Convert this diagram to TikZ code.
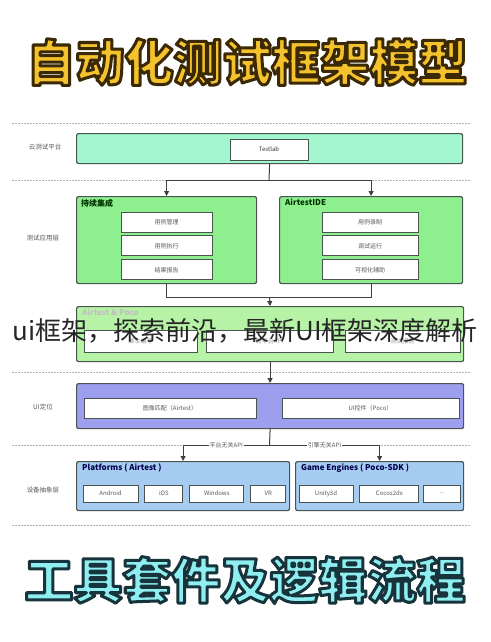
\documentclass[tikz,border=0pt]{standalone}
\usepackage{fontspec}
\setmainfont{Noto Sans CJK SC}
\usetikzlibrary{positioning, arrows.meta}
\usepackage{xcolor}

\definecolor{mintfill}{HTML}{A2F7CF}
\definecolor{greenfill}{HTML}{8DEF8D}
\definecolor{palegreen}{HTML}{B6F3A6}
\definecolor{violetfill}{HTML}{9E9EEE}
\definecolor{bluefill}{HTML}{A6CCF2}
\definecolor{edgegray}{HTML}{4A5550}
\definecolor{goldtitle}{HTML}{F3C22C}
\definecolor{cyantitle}{HTML}{8EEEF0}

\begin{document}
\begin{tikzpicture}[
    x=1pt, y=-1pt,
    layer/.style={draw=edgegray, rounded corners=2pt, line width=1.2pt, anchor=north west, inner sep=0pt},
    inbox/.style={draw=edgegray, fill=white, line width=0.9pt, minimum height=20pt, inner sep=0pt, font=\fontsize{6}{7}\selectfont, text=black!65},
    side/.style={font=\fontsize{6.5}{8}\selectfont, text=black!65},
    grptitle/.style={anchor=north west, inner sep=0pt, font=\bfseries\fontsize{8}{9}\selectfont},
    bigtitle/.style={inner sep=0pt, font=\bfseries\fontsize{49}{50}\selectfont},
    arrow/.style={-{Triangle[width=5pt,length=5pt]}, line width=1pt, draw=black!75},
    link/.style={line width=1pt, draw=black!75},
    sep/.style={draw=black!30, line width=0.6pt, dash pattern=on 2pt off 1pt},
    apilbl/.style={fill=white, inner sep=1pt, font=\fontsize{6}{7}\selectfont, text=black!65}
]
    \fill[white] (0,0) rectangle (490,642);
    \useasboundingbox (0,0) rectangle (490,642);

    % Titel oben
    \node[bigtitle, text=goldtitle] (toptitle) at (247,62)
        {\special{pdf:literal direct 2 Tr 3 w 1 j 0.23 0.16 0.02 RG}自动化测试框架模型\special{pdf:literal direct 0 Tr}};

    % Trennlinien
    \draw[sep] (12,123) -- (470,123);
    \draw[sep] (12,180) -- (470,180);
    \draw[sep] (12,372) -- (470,372);
    \draw[sep] (12,445) -- (470,445);
    \draw[sep] (12,525) -- (470,525);

    % Ebenen
    \node[side] (lcloud) at (45,147) {云测试平台};
    \node[side] (lapp) at (43,238) {测试应用层};
    \node[side] (lui) at (43,407) {UI定位};
    \node[side] (ldev) at (43,490) {设备抽象层};

    \node[layer, fill=mintfill, minimum width=386pt, minimum height=30pt] (cloud) at (76,133) {};
    \node[inbox, minimum width=78pt, minimum height=21pt, text=black!80] (testlab) at (269,149.5) {Testlab};

    \node[layer, fill=greenfill, minimum width=180pt, minimum height=87pt] (ci) at (76,196) {};
    \node[grptitle, text=black!80!green] (cititle) at (81,199) {持续集成};
    \node[inbox, minimum width=91pt] (cimanage) at (166.5,222) {用例管理};
    \node[inbox, minimum width=91pt, below=3pt of cimanage] (cirun) {用例执行};
    \node[inbox, minimum width=91pt, below=3pt of cirun] (cireport) {结果报告};

    \node[layer, fill=greenfill, minimum width=183pt, minimum height=87pt] (ide) at (279,196) {};
    \node[grptitle, text=black!80!green] (idetitle) at (285,199) {AirtestIDE};
    \node[inbox, minimum width=96pt] (iderecord) at (370,222) {用例录制};
    \node[inbox, minimum width=96pt, below=3pt of iderecord] (idedebug) {调试运行};
    \node[inbox, minimum width=96pt, below=3pt of idedebug] (idehelp) {可视化辅助};

    \node[layer, fill=palegreen, minimum width=387pt, minimum height=55pt] (frame) at (76,306) {};
    \node[grptitle, text=black!25] (frametitle) at (82,309) {Airtest \& Poco};
    \node[inbox, minimum width=113pt, minimum height=22pt, text=black!40] (fscript) at (140.5,341) {脚本编写};
    \node[inbox, minimum width=127pt, minimum height=22pt, text=black!40] (fapi) at (269.5,341) {跨平台API};
    \node[inbox, minimum width=115pt, minimum height=22pt, text=black!40] (freport) at (402.5,341) {测试报告};

    \node[layer, fill=violetfill, minimum width=387pt, minimum height=45pt] (ui) at (76,383) {};
    \node[inbox, minimum width=172pt] (uiimage) at (170,408) {图像匹配（Airtest）};
    \node[inbox, minimum width=177pt] (uipoco) at (370.5,408) {UI控件（Poco）};

    \node[layer, fill=bluefill, minimum width=213pt, minimum height=49pt] (plat) at (76,461) {};
    \node[grptitle, text=blue!30!black] (plattitle) at (82,464) {Platforms ( Airtest )};
    \node[inbox, minimum width=55pt, minimum height=17pt] (android) at (110.5,493.5) {Android};
    \node[inbox, minimum width=38pt, minimum height=17pt, right=6pt of android] (ios) {iOS};
    \node[inbox, minimum width=54pt, minimum height=17pt, right=6pt of ios] (windows) {Windows};
    \node[inbox, minimum width=35pt, minimum height=17pt, right=6pt of windows] (vr) {VR};

    \node[layer, fill=bluefill, minimum width=168pt, minimum height=49pt] (eng) at (295,461) {};
    \node[grptitle, text=blue!30!black] (engtitle) at (301,464) {Game Engines ( Poco-SDK )};
    \node[inbox, minimum width=54pt, minimum height=17pt] (unity) at (326,493.5) {Unity3d};
    \node[inbox, minimum width=59pt, minimum height=17pt, right=6pt of unity] (cocos) {Cocos2dx};
    \node[inbox, minimum width=37pt, minimum height=17pt, right=4pt of cocos] (more) {...};

    % Verbindungen
    \coordinate (fork1) at (269,180);
    \draw[link] (cloud.south) -- (fork1);
    \draw[arrow] (fork1) -| (ci.north);
    \draw[arrow] (fork1) -| (ide.north);

    \coordinate (join1) at (269.5,297);
    \draw[link] (ci.south) |- (join1);
    \draw[link] (ide.south) |- (join1);
    \draw[arrow] (join1) -- (frame.north);
    \draw[arrow] (frame.south) -- (ui.north);

    \coordinate (fork2) at (269.5,445);
    \draw[link] (ui.south) -- (fork2);
    \draw[arrow] (fork2) -| node[apilbl, pos=0.25] {平台无关API} (plat.north);
    \draw[arrow] (fork2) -| node[apilbl, pos=0.25] {引擎无关API} (eng.north);

    % Schriftzug
    \node[font=\fontsize{26}{27}\selectfont, text=black!85, inner sep=0pt] (banner) at (245,331) {ui框架，探索前沿，最新UI框架深度解析};

    % Titel unten
    \node[bigtitle, text=cyantitle] (bottitle) at (245,580)
        {\special{pdf:literal direct 2 Tr 3 w 1 j 0.09 0.2 0.23 RG}工具套件及逻辑流程\special{pdf:literal direct 0 Tr}};
\end{tikzpicture}
\end{document}
